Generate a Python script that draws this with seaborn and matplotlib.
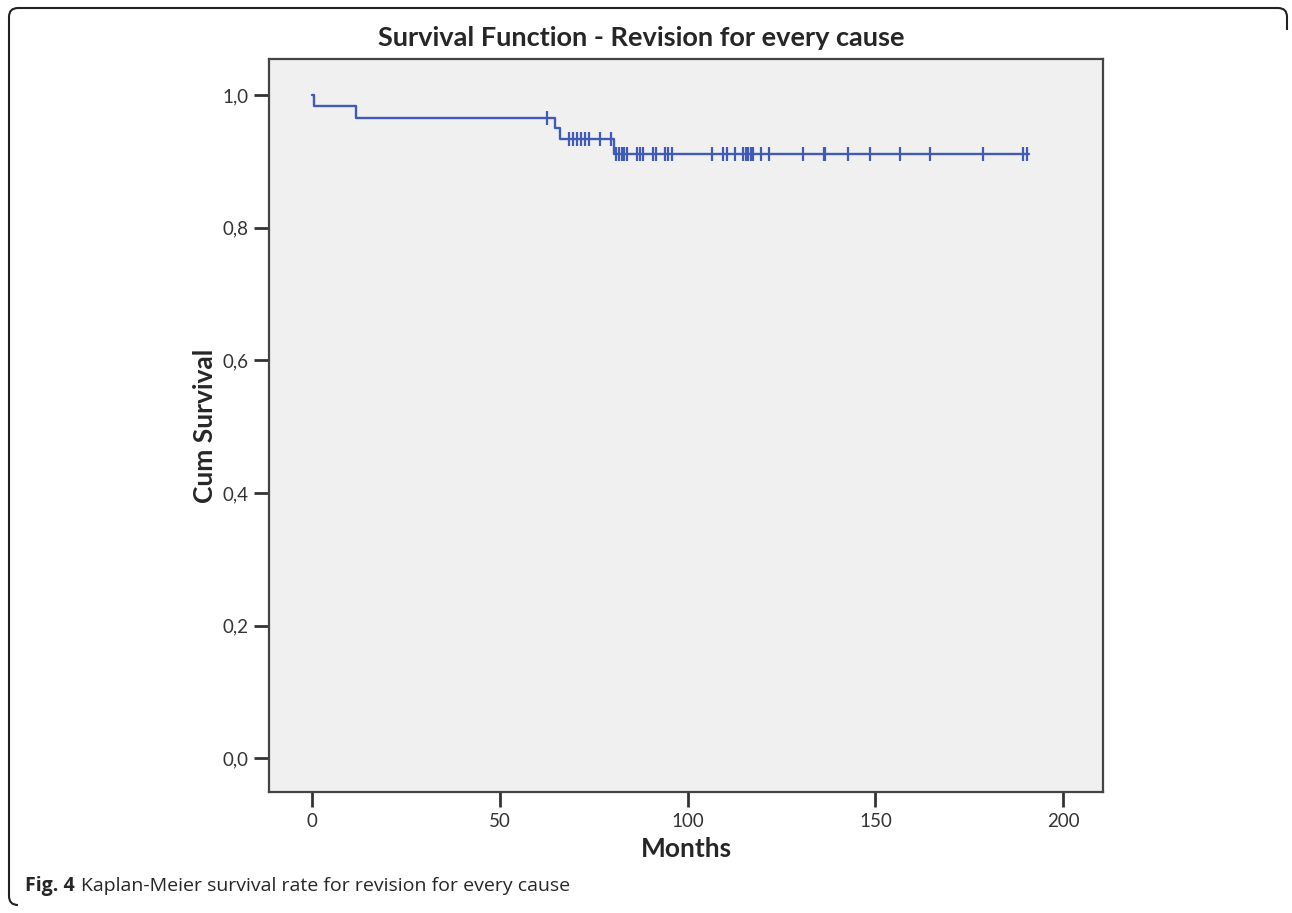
import numpy as np
import pandas as pd
import matplotlib
matplotlib.use("Agg")
import matplotlib.pyplot as plt
from matplotlib.path import Path
from matplotlib.patches import PathPatch
import seaborn as sns

# Kaplan-Meier step levels (time in months, cumulative survival after the step)
step_times = [0, 0.6, 11.7, 64.7, 65.9, 80.4, 191.0]
step_surv = [1.0, 0.983, 0.966, 0.951, 0.934, 0.911, 0.911]

# censored observations (months)
censor_times = [62.5,
                68.5, 69.6, 70.6, 71.7, 72.8, 73.8, 76.7, 79.5,
                81.0, 81.7, 82.4, 83.1, 83.8, 86.5, 87.4, 88.2, 90.7, 91.6,
                94.0, 94.9, 95.8,
                106.4, 109.5, 110.4, 112.6, 114.7, 115.5, 116.2, 116.9, 117.5,
                119.5, 121.6, 130.7, 136.2, 136.6, 142.6, 148.5, 156.5, 164.6,
                178.6, 189.4, 190.5]

x_ticks = [0, 50, 100, 150, 200]
y_ticks = [0.0, 0.2, 0.4, 0.6, 0.8, 1.0]

curve = pd.DataFrame({"Months": step_times, "Cum Survival": step_surv})
idx = np.searchsorted(step_times, censor_times, side="right") - 1
cens = pd.DataFrame({"Months": censor_times,
                     "Cum Survival": np.array(step_surv)[idx]})

sns.set_style("white")
plt.rcParams["font.family"] = ["Lato", "DejaVu Sans"]

fig = plt.figure(figsize=(12.92, 9.13), dpi=100)
ax = fig.add_axes([0.2084, 0.1322, 0.6453, 0.8028])
ax.set_facecolor("#f0f0f0")

line_color = "#3f5bb5"
sns.lineplot(data=curve, x="Months", y="Cum Survival", ax=ax,
             drawstyle="steps-post", color=line_color, linewidth=1.7,
             sort=False, estimator=None)
ax.plot(cens["Months"], cens["Cum Survival"], linestyle="none", marker="|",
        markersize=10, markeredgewidth=1.6, color=line_color)

ax.set_xlim(-11.4, 210.6)
ax.set_ylim(-0.051, 1.054)
ax.set_xticks(x_ticks)
ax.set_xticklabels([str(t) for t in x_ticks])
ax.set_yticks(y_ticks)
ax.set_yticklabels([f"{t:.1f}".replace(".", ",") for t in y_ticks])
ax.tick_params(axis="both", bottom=True, left=True, direction="out",
               length=11, width=2, color="#333333", labelsize=13.5,
               labelcolor="#333333", pad=4)
for s in ax.spines.values():
    s.set_color("#444444")
    s.set_linewidth(1.6)

ax.set_xlabel("Months", fontsize=19, fontweight="bold", labelpad=5)
ax.set_ylabel("Cum Survival", fontsize=19, fontweight="bold", labelpad=4)
fig.text(0.496, 0.958, "Survival Function - Revision for every cause",
         ha="center", va="center", fontsize=19.5, fontweight="bold")

# caption
fig.text(0.0194, 0.030, "Fig. 4", ha="left", va="center", fontsize=14,
         fontweight="bold", family=["Open Sans", "DejaVu Sans"])
fig.text(0.0625, 0.030, "Kaplan-Meier survival rate for revision for every cause",
         ha="left", va="center", fontsize=14, family=["Open Sans", "DejaVu Sans"])

# rounded frame around the figure (pixel coords, y downward)
W, H = 1292, 913
r = 9
pts = [(W - 5, 8 + 22), (W - 5, 8 + r), (W - 5, 8), (W - 5 - r, 8),
       (9 + r, 8), (9, 8), (9, 8 + r),
       (9, 905 - r), (9, 905), (9 + r, 905)]
codes = [Path.MOVETO, Path.LINETO, Path.CURVE3, Path.CURVE3,
         Path.LINETO, Path.CURVE3, Path.CURVE3,
         Path.LINETO, Path.CURVE3, Path.CURVE3]
pts = [(x / W, 1 - y / H) for x, y in pts]
fig.patches.append(PathPatch(Path(pts, codes), transform=fig.transFigure,
                             facecolor="none", edgecolor="#222222", linewidth=1.5))

fig.savefig("out.png", dpi=100)
